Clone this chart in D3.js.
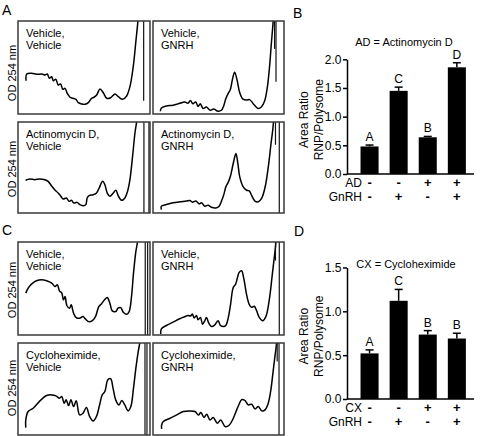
<!DOCTYPE html>
<html><head><meta charset="utf-8">
<script src="https://cdn.jsdelivr.net/npm/d3@7"></script>
<style>body{margin:0;background:#fff}svg{display:block}text{font-family:"Liberation Sans",Arial,Helvetica,sans-serif;fill:#000}</style>
</head><body><svg id="c" width="481" height="436"></svg>
<script>
// ---------------- DATA ----------------
const panelLetters = ["A", "B", "C", "D"];
const profileYLabel = "OD 254 nm";
const conditionsA = [["Vehicle,", "Vehicle"], ["Vehicle,", "GNRH"], ["Actinomycin D,", "Vehicle"], ["Actinomycin D,", "GNRH"]];
const conditionsC = [["Vehicle,", "Vehicle"], ["Vehicle,", "GNRH"], ["Cycloheximide,", "Vehicle"], ["Cycloheximide,", "GNRH"]];

// profiles: [position along gradient (0-100), OD (0-100 of box height)]
const traceA1 = [[6.1,35.8],[6.6,43],[10.4,43.8],[14.2,42.7],[18,43],[20.5,41.9],[22.2,43],[23.7,38.4],[25.5,40.1],[26.7,35.8],[28.6,37.3],[30.5,31.2],[32.3,32.3],[33.9,26.6],[35.6,27.6],[37.3,22.3],[39.4,18],[41.4,16.9],[43.9,15.8],[45.7,12.2],[48.3,10.8],[50.8,10.4],[53.3,12.2],[55.8,16.9],[57.6,18],[59.6,20.4],[62.1,26.9],[64.6,22.9],[67.2,16.9],[70.2,17.5],[73.5,21.5],[76,18.6],[79.3,15.8],[82.3,19.4],[84.8,29.4],[87.3,50.9],[89.4,79.6],[90.9,101],[92,130]];
const traceA2 = [[5.6,3],[6.4,6.5],[10.2,8.5],[15.3,9.5],[20.4,11.5],[24.2,13],[26.7,11.5],[28.5,14.5],[30.5,11],[32.6,13],[34.4,8],[36.1,11],[38.2,6],[40.7,7.5],[43.8,4],[46.3,5.5],[49.6,3],[52.2,4],[53.9,8.5],[55.5,16],[57.3,22],[59,26],[60.6,37],[62.3,45],[64.1,37],[66.2,23],[68.7,16],[71.8,15],[73.8,15.5],[76.8,10.5],[80.2,6],[82.7,7.5],[85.2,14],[87.3,29],[89.1,53],[90.3,75],[91.3,92],[92,105],[92.5,130]];
const traceA3 = [[5.8,36],[8.9,37.4],[12.7,36.6],[16.5,37.4],[20.3,36.6],[22.8,34.8],[25.3,30],[27.8,25.6],[30.4,22],[32.2,19],[34.2,15.4],[36.7,16.5],[38.7,12.8],[40.5,13.9],[42.3,11],[44.8,11.7],[46.8,9.2],[49.4,8.1],[51.4,9.2],[52.4,16.5],[53.9,19],[57,20.1],[59.5,22],[61.5,27.5],[64.1,34.8],[65.8,31.1],[67.6,22],[69.6,18.3],[72.2,22],[74.2,24.9],[75.9,19],[78.5,13.9],[81,16.5],[83,23.8],[84.8,36.6],[86.8,62.3],[88.6,87.9],[89.9,101],[91,130]];
const traceA4 = [[6.4,3.7],[6.4,7.5],[10.2,9.3],[15.3,11.2],[20.4,12.3],[25.5,13.1],[28.1,13.8],[30.1,11.9],[32.7,13.1],[35.2,10.1],[37,11.2],[39.5,7.5],[42.1,8.6],[44.6,6.3],[48,5.6],[50.5,7.5],[52.3,13.1],[54.1,20.5],[55.6,28.7],[57.4,33.6],[59.2,41],[61.2,54.1],[63.3,65.3],[64.8,54.1],[66.3,39.2],[68.9,28.7],[71.4,25],[73.5,24.3],[75.5,18.7],[77.8,13.1],[80.4,12.3],[82.9,16],[85.5,28],[88,50.4],[90.1,76.5],[91.8,97],[92.5,130]];
const traceC1 = [[5.9,45],[7.7,50.4],[10.2,54.7],[14,58.3],[17.9,59.4],[21.7,58.3],[25.5,55.8],[28.1,52.2],[29.8,54],[31.4,47.5],[33.2,45],[34.4,37.8],[35.7,41.4],[37,31.7],[39,28.8],[40.3,32.4],[42.1,23.4],[44.1,18.7],[46.7,18],[49.2,19.8],[51,17.3],[53.6,14.4],[56.1,15.1],[58.7,19.8],[61.2,30.6],[63,33.1],[65.6,37.8],[67.6,40.3],[69.6,34.2],[71.4,25.9],[74,25.2],[75.8,28.8],[77.8,29.5],[79.8,24.5],[82.4,22.3],[84.2,25.2],[86,41.4],[87.5,66.5],[89.3,89.9],[90.6,101],[91.5,130]];
const traceC2 = [[5.9,1],[6.4,6.5],[10.2,10.2],[15.3,13.8],[20.4,17.5],[24.2,19.6],[26.8,21.1],[28.6,20.4],[30.1,22.5],[31.4,18.2],[33.2,21.1],[34.4,16.4],[36.2,18.9],[37.8,11.6],[39.5,15.3],[40.8,18.9],[42.6,12.7],[44.6,9.1],[47.2,10.9],[49.7,15.3],[51.5,10.2],[53.6,9.1],[55.6,10.2],[57.4,18.2],[59.2,32.7],[61.2,50.9],[63,54.5],[64.5,61.8],[65.8,67.3],[67.6,69.1],[69.4,60],[71.4,43.6],[73.5,32.7],[75.3,29.8],[77.3,30.9],[79.1,26.2],[81.1,18.9],[83.7,15.3],[86.2,20],[88.8,38.2],[91.1,65.5],[92.9,87.3],[93.9,101],[94.5,130]];
const traceC3 = [[5.9,8],[5.9,16.4],[7.7,25.5],[11.5,29.1],[16.6,37.1],[21.7,42.9],[25.5,43.6],[28.8,42.5],[31.4,40],[33.2,41.8],[34.9,34.5],[36.5,38.2],[38.3,32],[40.1,38.2],[42.1,30.9],[44.1,37.1],[46.7,21.8],[49.2,23.6],[51.8,29.8],[54.3,20],[56.9,15.3],[59.4,20],[61.7,32],[63.8,43.6],[65.8,47.3],[68.1,60],[70.2,61.1],[72,50.9],[74,38.2],[76.5,32.7],[78.6,37.5],[80.9,32.7],[83.4,26.2],[85.5,30.9],[87.5,50.9],[89.3,72.7],[91.1,90.9],[92.3,101],[93,130]];
const traceC4 = [[6.6,6.6],[6.6,10.9],[7.9,14.6],[13,18.2],[18.1,21.8],[23.1,25.5],[28.2,26.2],[32.1,25.5],[34.6,21.8],[36.6,24.4],[38.9,19],[41,22.6],[43.5,16.4],[46,19],[49.1,12.8],[51.7,16.4],[55,9.2],[58.3,10.9],[61.3,18.2],[63.9,27.3],[65.9,34],[67.7,38.5],[70.2,37.5],[72.7,32.7],[75.3,33.5],[77.9,28.4],[80.4,31],[83,26.2],[85.5,27.3],[88,34.6],[89.8,47.3],[91.4,65.4],[92.9,83.6],[94.4,101],[95,130]];
// vertical marker lines in each profile: [position, OD from, OD to]
const marksA1 = [[95.2,14.3,100]];
const marksA2 = [[92.8,70,100],[93.9,34.7,100]];
const marksA3 = [[95.4,0,100],[99.2,0,100]];
const marksA4 = [[93.5,75,100],[96.4,0,100]];
const marksC1 = [[96.4,0,100],[98.2,0,100]];
const marksC2 = [[93.5,80,100],[96.4,0,100]];
const marksC3 = [[96.2,0,100],[97.7,0,100]];
const marksC4 = [[94.8,80,100],[96.2,0,100]];

// bar charts
const groups = ["g1", "g2", "g3", "g4"];
const gnrhRow = ["-", "+", "-", "+"];
const adTitle = "AD = Actinomycin D";
const adRow = ["-", "-", "+", "+"];
const adValues = [0.48, 1.45, 0.64, 1.86];
const adErrors = [0.025, 0.065, 0.015, 0.08];
const adLetters = ["A", "C", "B", "D"];
const adTicks = [0, 0.5, 1.0, 1.5, 2.0];
const cxTitle = "CX = Cycloheximide";
const cxRow = ["-", "-", "+", "+"];
const cxValues = [0.52, 1.12, 0.735, 0.69];
const cxErrors = [0.04, 0.13, 0.045, 0.06];
const cxLetters = ["A", "C", "B", "B"];
const cxTicks = [0, 0.5, 1.0, 1.5];
const barYLabel = ["Area Ratio", "RNP/Polysome"];

// ---------------- DRAWING ----------------
const svg = d3.select("#c");
const defs = svg.append("defs");
let clipN = 0;

function profile(x0, x1, y0, y1, trace, marks, cond, ylabelCenter) {
  const xs = d3.scaleLinear().domain([0, 100]).range([x0, x1]);
  const ys = d3.scaleLinear().domain([0, 100]).range([y1, y0]);
  const id = "clip" + (clipN++);
  defs.append("clipPath").attr("id", id).append("rect")
    .attr("x", x0).attr("y", y0).attr("width", x1 - x0).attr("height", y1 - y0);
  const g = svg.append("g");
  const inner = g.append("g").attr("clip-path", `url(#${id})`);
  inner.append("path").datum(trace)
    .attr("d", d3.line().x(d => xs(d[0])).y(d => ys(d[1])).curve(d3.curveCatmullRom.alpha(0.5)))
    .attr("fill", "none").attr("stroke", "#000").attr("stroke-width", 1.5).attr("stroke-linejoin", "round");
  inner.selectAll("line.m").data(marks).enter().append("line")
    .attr("x1", d => xs(d[0])).attr("x2", d => xs(d[0]))
    .attr("y1", d => ys(d[1])).attr("y2", d => ys(d[2]))
    .attr("stroke", "#111").attr("stroke-width", 1.2);
  g.append("rect").attr("x", x0).attr("y", y0).attr("width", x1 - x0).attr("height", y1 - y0)
    .attr("fill", "none").attr("stroke", "#3a3a3a").attr("stroke-width", 1.5);
  const t = g.append("text").attr("font-size", 11);
  t.append("tspan").attr("x", x0 + 8).attr("y", y0 + 16).text(cond[0]);
  t.append("tspan").attr("x", x0 + 8).attr("y", y0 + 28).text(cond[1]);
  if (ylabelCenter != null) {
    svg.append("text").attr("font-size", 11).attr("text-anchor", "middle")
      .attr("transform", `translate(15.5,${ylabelCenter}) rotate(-90)`).text(profileYLabel);
  }
}

const cols = [[18, 150], [153, 284]];
const rowsA = [[21, 114], [122, 213]];
const rowsC = [[242, 335], [343, 435]];
const labA = [73, 169], labC = [290, 388];
const tracesA = [traceA1, traceA2, traceA3, traceA4];
const marksA = [marksA1, marksA2, marksA3, marksA4];
const tracesC = [traceC1, traceC2, traceC3, traceC4];
const marksC = [marksC1, marksC2, marksC3, marksC4];
for (let i = 0; i < 4; i++) {
  const r = Math.floor(i / 2), c = i % 2;
  profile(cols[c][0], cols[c][1], rowsA[r][0], rowsA[r][1], tracesA[i], marksA[i], conditionsA[i], c === 0 ? labA[r] : null);
  profile(cols[c][0], cols[c][1], rowsC[r][0], rowsC[r][1], tracesC[i], marksC[i], conditionsC[i], c === 0 ? labC[r] : null);
}

// panel letters
const letterPos = [[2, 15], [293, 18], [2, 235], [294, 236]];
panelLetters.forEach((L, i) => svg.append("text").attr("x", letterPos[i][0]).attr("y", letterPos[i][1])
  .attr("font-size", 14).text(L));

function barChart(o) {
  const y = d3.scaleLinear().domain([0, o.max]).range([o.yBottom, o.yTop]);
  const x = d3.scaleBand().domain(groups).range([355, 471.4]).paddingInner(0.38).paddingOuter(0.19);
  const g = svg.append("g");
  const ax = g.append("g").attr("transform", `translate(${o.axisX},0)`)
    .call(d3.axisLeft(y).tickValues(o.ticks).tickFormat(d3.format(".1f")).tickSize(4).tickSizeOuter(0).tickPadding(1.5));
  ax.select(".domain").attr("stroke", "#000").attr("stroke-width", 1.5);
  ax.selectAll(".tick line").attr("stroke", "#000").attr("stroke-width", 1.5);
  ax.selectAll(".tick text").attr("font-size", 12).attr("font-family", '"Liberation Sans",Arial,sans-serif').attr("fill", "#000");
  g.append("line").attr("x1", o.axisX).attr("x2", 474).attr("y1", y(0)).attr("y2", y(0))
    .attr("stroke", "#000").attr("stroke-width", 1.5);
  const cx = d => x(d) + x.bandwidth() / 2;
  // error bars
  g.selectAll("line.e").data(groups).enter().append("line")
    .attr("x1", cx).attr("x2", cx).attr("y1", (d, i) => y(o.values[i])).attr("y2", (d, i) => y(o.values[i] + o.errors[i]))
    .attr("stroke", "#000").attr("stroke-width", 1.5);
  g.selectAll("line.c").data(groups).enter().append("line")
    .attr("x1", d => cx(d) - 4).attr("x2", d => cx(d) + 4)
    .attr("y1", (d, i) => y(o.values[i] + o.errors[i])).attr("y2", (d, i) => y(o.values[i] + o.errors[i]))
    .attr("stroke", "#000").attr("stroke-width", 1.5);
  g.selectAll("rect.b").data(groups).enter().append("rect")
    .attr("x", d => x(d)).attr("width", x.bandwidth())
    .attr("y", (d, i) => y(o.values[i])).attr("height", (d, i) => y(0) - y(o.values[i]))
    .attr("fill", "#000");
  g.selectAll("text.l").data(groups).enter().append("text")
    .attr("x", cx).attr("y", (d, i) => y(o.values[i] + o.errors[i]) - 4)
    .attr("text-anchor", "middle").attr("font-size", 12).text((d, i) => o.letters[i]);
  // title
  g.append("text").attr("x", o.titleX).attr("y", o.titleY).attr("text-anchor", "middle").attr("font-size", 11).text(o.title);
  // treatment rows
  o.rows.forEach((row, ri) => {
    const yy = y(0) + 13 + ri * 13.5;
    g.append("text").attr("x", 362).attr("y", yy).attr("text-anchor", "end").attr("font-size", 12).text(row.label);
    g.selectAll(null).data(groups).enter().append("text")
      .attr("x", cx).attr("y", yy).attr("text-anchor", "middle").attr("font-size", 13).attr("font-weight", "bold")
      .text((d, i) => row.values[i]);
  });
  // y label
  const yc = (o.yTop + o.yBottom) / 2 + 3;
  g.append("text").attr("transform", `translate(308,${yc}) rotate(-90)`).attr("text-anchor", "middle").attr("font-size", 12).text(barYLabel[0]);
  g.append("text").attr("transform", `translate(322.5,${yc}) rotate(-90)`).attr("text-anchor", "middle").attr("font-size", 12).text(barYLabel[1]);
}

barChart({max: 2.0, yBottom: 174, yTop: 59.3, axisX: 347, ticks: adTicks, values: adValues, errors: adErrors,
  letters: adLetters, title: adTitle, titleX: 404, titleY: 46,
  rows: [{label: "AD", values: adRow}, {label: "GnRH", values: gnrhRow}]});
barChart({max: 1.5, yBottom: 399, yTop: 267.5, axisX: 347, ticks: cxTicks, values: cxValues, errors: cxErrors,
  letters: cxLetters, title: cxTitle, titleX: 406, titleY: 268,
  rows: [{label: "CX", values: cxRow}, {label: "GnRH", values: gnrhRow}]});
</script></body></html>
